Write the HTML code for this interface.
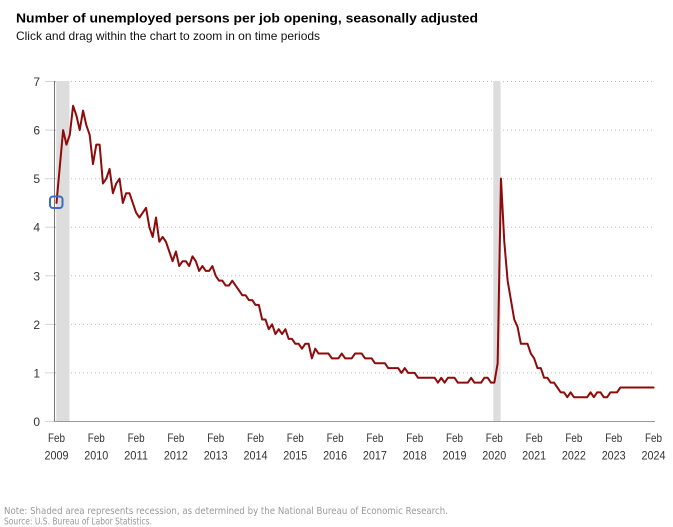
<!DOCTYPE html>
<html>
<head>
<meta charset="utf-8">
<style>
  html,body{margin:0;padding:0;background:#fff;}
  svg{display:block;}
  text{font-family:"Liberation Sans",Arial,sans-serif;}
</style>
</head>
<body>
<svg width="673" height="527" viewBox="0 0 673 527" xmlns="http://www.w3.org/2000/svg">
  <rect x="0" y="0" width="673" height="527" fill="#fff"/>
  <!-- Title -->
  <text x="16" y="22.3" font-size="13.3" font-weight="bold" fill="#000" textLength="462" lengthAdjust="spacingAndGlyphs">Number of unemployed persons per job opening, seasonally adjusted</text>
  <text x="16" y="40" font-size="12" fill="#111" textLength="304" lengthAdjust="spacingAndGlyphs">Click and drag within the chart to zoom in on time periods</text>

  <!-- gridlines -->
  <g stroke="#bdbdbd" stroke-width="1" stroke-dasharray="1,3">
    <line x1="55" y1="372.9" x2="655" y2="372.9"/>
    <line x1="55" y1="324.4" x2="655" y2="324.4"/>
    <line x1="55" y1="275.8" x2="655" y2="275.8"/>
    <line x1="55" y1="227.2" x2="655" y2="227.2"/>
    <line x1="55" y1="178.7" x2="655" y2="178.7"/>
    <line x1="55" y1="130.1" x2="655" y2="130.1"/>
    <line x1="55" y1="81.5" x2="655" y2="81.5"/>
  </g>
  <!-- y ticks -->
  <g stroke="#ccd6eb" stroke-width="1">
    <line x1="45" y1="421.5" x2="54" y2="421.5"/>
    <line x1="45" y1="372.9" x2="54" y2="372.9"/>
    <line x1="45" y1="324.4" x2="54" y2="324.4"/>
    <line x1="45" y1="275.8" x2="54" y2="275.8"/>
    <line x1="45" y1="227.2" x2="54" y2="227.2"/>
    <line x1="45" y1="178.7" x2="54" y2="178.7"/>
    <line x1="45" y1="130.1" x2="54" y2="130.1"/>
    <line x1="45" y1="81.5" x2="54" y2="81.5"/>
  </g>

  <!-- recession shading -->
  <rect x="56.2" y="81" width="13.3" height="340.5" fill="#dddddd"/>
  <rect x="493.3" y="81" width="7.3" height="340.5" fill="#dddddd"/>

  <!-- axes -->
  <line x1="54.5" y1="81" x2="54.5" y2="422" stroke="#777" stroke-width="1"/>
  <line x1="54" y1="421.5" x2="655" y2="421.5" stroke="#999" stroke-width="1"/>

  <!-- y labels -->
  <g font-size="12" fill="#333" text-anchor="end">
    <text x="40" y="426">0</text>
    <text x="40" y="377.4">1</text>
    <text x="40" y="328.9">2</text>
    <text x="40" y="280.3">3</text>
    <text x="40" y="231.7">4</text>
    <text x="40" y="183.2">5</text>
    <text x="40" y="134.6">6</text>
    <text x="40" y="86">7</text>
  </g>

  <!-- x labels -->
  <g font-size="12" fill="#333" text-anchor="middle">
    <text x="56.5" y="442" textLength="17" lengthAdjust="spacingAndGlyphs">Feb</text><text x="56.5" y="459.5" textLength="24" lengthAdjust="spacingAndGlyphs">2009</text>
    <text x="96.3" y="442" textLength="17" lengthAdjust="spacingAndGlyphs">Feb</text><text x="96.3" y="459.5" textLength="24" lengthAdjust="spacingAndGlyphs">2010</text>
    <text x="136.1" y="442" textLength="17" lengthAdjust="spacingAndGlyphs">Feb</text><text x="136.1" y="459.5" textLength="24" lengthAdjust="spacingAndGlyphs">2011</text>
    <text x="175.9" y="442" textLength="17" lengthAdjust="spacingAndGlyphs">Feb</text><text x="175.9" y="459.5" textLength="24" lengthAdjust="spacingAndGlyphs">2012</text>
    <text x="215.7" y="442" textLength="17" lengthAdjust="spacingAndGlyphs">Feb</text><text x="215.7" y="459.5" textLength="24" lengthAdjust="spacingAndGlyphs">2013</text>
    <text x="255.5" y="442" textLength="17" lengthAdjust="spacingAndGlyphs">Feb</text><text x="255.5" y="459.5" textLength="24" lengthAdjust="spacingAndGlyphs">2014</text>
    <text x="295.3" y="442" textLength="17" lengthAdjust="spacingAndGlyphs">Feb</text><text x="295.3" y="459.5" textLength="24" lengthAdjust="spacingAndGlyphs">2015</text>
    <text x="335.1" y="442" textLength="17" lengthAdjust="spacingAndGlyphs">Feb</text><text x="335.1" y="459.5" textLength="24" lengthAdjust="spacingAndGlyphs">2016</text>
    <text x="374.9" y="442" textLength="17" lengthAdjust="spacingAndGlyphs">Feb</text><text x="374.9" y="459.5" textLength="24" lengthAdjust="spacingAndGlyphs">2017</text>
    <text x="414.7" y="442" textLength="17" lengthAdjust="spacingAndGlyphs">Feb</text><text x="414.7" y="459.5" textLength="24" lengthAdjust="spacingAndGlyphs">2018</text>
    <text x="454.5" y="442" textLength="17" lengthAdjust="spacingAndGlyphs">Feb</text><text x="454.5" y="459.5" textLength="24" lengthAdjust="spacingAndGlyphs">2019</text>
    <text x="494.3" y="442" textLength="17" lengthAdjust="spacingAndGlyphs">Feb</text><text x="494.3" y="459.5" textLength="24" lengthAdjust="spacingAndGlyphs">2020</text>
    <text x="534.1" y="442" textLength="17" lengthAdjust="spacingAndGlyphs">Feb</text><text x="534.1" y="459.5" textLength="24" lengthAdjust="spacingAndGlyphs">2021</text>
    <text x="573.9" y="442" textLength="17" lengthAdjust="spacingAndGlyphs">Feb</text><text x="573.9" y="459.5" textLength="24" lengthAdjust="spacingAndGlyphs">2022</text>
    <text x="613.7" y="442" textLength="17" lengthAdjust="spacingAndGlyphs">Feb</text><text x="613.7" y="459.5" textLength="24" lengthAdjust="spacingAndGlyphs">2023</text>
    <text x="653.5" y="442" textLength="17" lengthAdjust="spacingAndGlyphs">Feb</text><text x="653.5" y="459.5" textLength="24" lengthAdjust="spacingAndGlyphs">2024</text>
  </g>

  <!-- data line -->
  <g transform="translate(56.5,421.5) scale(3.317,-48.57)">
    <polyline fill="none" stroke="#8e0b0b" stroke-width="2" stroke-linejoin="round" stroke-linecap="round" vector-effect="non-scaling-stroke"
      points="0,4.5 1,5.25 2,6.0 3,5.7 4,5.9 5,6.5 6,6.3 7,6.0 8,6.4 9,6.1 10,5.9 11,5.3 12,5.7 13,5.7 14,4.9 15,5.0 16,5.2 17,4.7 18,4.9 19,5.0 20,4.5 21,4.7 22,4.7 23,4.5 24,4.3 25,4.2 26,4.3 27,4.4 28,4.0 29,3.8 30,4.2 31,3.7 32,3.8 33,3.7 34,3.5 35,3.3 36,3.5 37,3.2 38,3.3 39,3.3 40,3.2 41,3.4 42,3.3 43,3.1 44,3.2 45,3.1 46,3.1 47,3.2 48,3.0 49,2.9 50,2.9 51,2.8 52,2.8 53,2.9 54,2.8 55,2.7 56,2.6 57,2.6 58,2.5 59,2.5 60,2.4 61,2.4 62,2.1 63,2.1 64,1.9 65,2.0 66,1.8 67,1.9 68,1.8 69,1.9 70,1.7 71,1.7 72,1.6 73,1.6 74,1.5 75,1.6 76,1.6 77,1.3 78,1.5 79,1.4 80,1.4 81,1.4 82,1.4 83,1.3 84,1.3 85,1.3 86,1.4 87,1.3 88,1.3 89,1.3 90,1.4 91,1.4 92,1.4 93,1.3 94,1.3 95,1.3 96,1.2 97,1.2 98,1.2 99,1.2 100,1.1 101,1.1 102,1.1 103,1.1 104,1.0 105,1.1 106,1.0 107,1.0 108,1.0 109,0.9 110,0.9 111,0.9 112,0.9 113,0.9 114,0.9 115,0.8 116,0.9 117,0.8 118,0.9 119,0.9 120,0.9 121,0.8 122,0.8 123,0.8 124,0.8 125,0.9 126,0.8 127,0.8 128,0.8 129,0.9 130,0.9 131,0.8 132,0.8 133,1.2 134,5.0 135,3.7 136,2.9 137,2.5 138,2.1 139,1.95 140,1.6 141,1.6 142,1.6 143,1.4 144,1.3 145,1.1 146,1.1 147,0.9 148,0.9 149,0.8 150,0.8 151,0.7 152,0.6 153,0.6 154,0.5 155,0.6 156,0.5 157,0.5 158,0.5 159,0.5 160,0.5 161,0.6 162,0.5 163,0.6 164,0.6 165,0.5 166,0.5 167,0.6 168,0.6 169,0.6 170,0.7 171,0.7 172,0.7 173,0.7 174,0.7 175,0.7 176,0.7 177,0.7 178,0.7 179,0.7 180,0.7"/>
  </g>

  <!-- marker -->
  <rect x="50" y="196.5" width="12.5" height="11.5" rx="3" ry="3" fill="none" stroke="#3b6cc4" stroke-width="2"/>

  <!-- footer -->
  <text x="4" y="514" font-size="9.5" fill="#999" style="font-family:'DejaVu Sans',Verdana,sans-serif" textLength="444" lengthAdjust="spacingAndGlyphs">Note: Shaded area represents recession, as determined by the National Bureau of Economic Research.</text>
  <text x="4" y="524.5" font-size="9.5" fill="#999" style="font-family:'DejaVu Sans',Verdana,sans-serif" textLength="148" lengthAdjust="spacingAndGlyphs">Source: U.S. Bureau of Labor Statistics.</text>
</svg>
</body>
</html>
